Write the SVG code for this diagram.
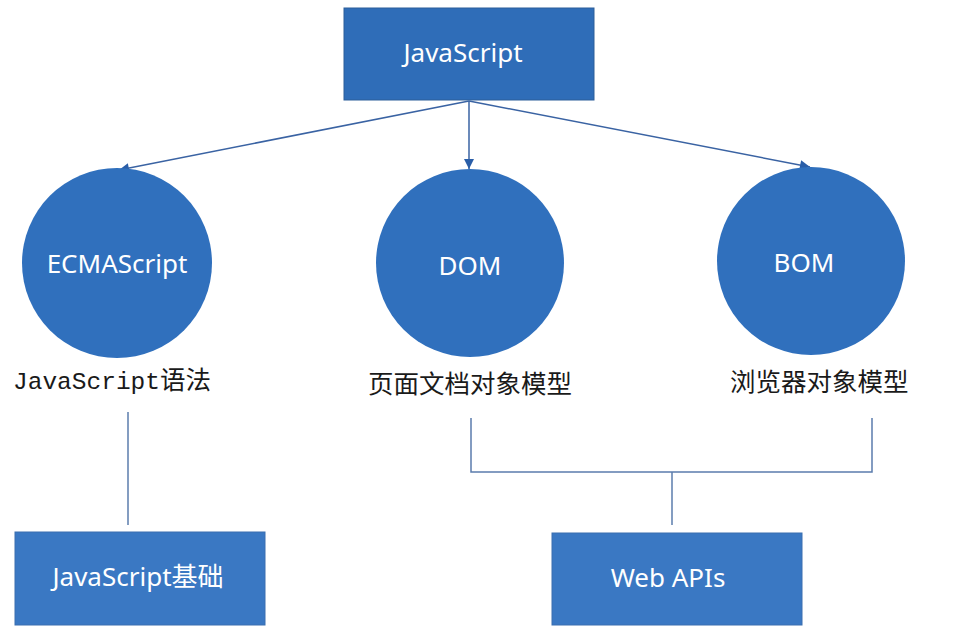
<svg xmlns="http://www.w3.org/2000/svg" width="980" height="630" viewBox="0 0 980 630">
<defs>
<style>
.box{fill:#2f6db8;stroke:#2d5e99;stroke-width:1}
.box2{fill:#3a78c3;stroke:#3a6fb0;stroke-width:1}
.circ{fill:#3070bd}
.wt{fill:#ffffff;font-family:"Noto Sans","Noto Sans CJK SC",sans-serif;font-size:26px;text-anchor:middle}
.lab{fill:#1a1a1a;font-family:"Noto Sans CJK SC",sans-serif;font-size:25.5px}
.mono{font-family:"Liberation Mono","Noto Sans CJK SC",monospace;font-size:24.5px}
.ln{stroke:#3a63a3;stroke-width:1.5;fill:none}
.ln2{stroke:#5b7cad;stroke-width:1.5;fill:none}
</style>
<marker id="ah" viewBox="0 0 10 10" refX="10" refY="5" markerWidth="11" markerHeight="10" orient="auto" markerUnits="userSpaceOnUse">
<path d="M0,0 L10,5 L0,10 z" fill="#2a5ea8"/>
</marker>
</defs>
<rect width="980" height="630" fill="#ffffff"/>
<g id="connectors">
<line class="ln" x1="469" y1="101" x2="119" y2="170" marker-end="url(#ah)"/>
<line class="ln" x1="469" y1="101" x2="469" y2="169" marker-end="url(#ah)"/>
<line class="ln" x1="469" y1="101" x2="810" y2="167" marker-end="url(#ah)"/>
<line class="ln2" x1="128" y1="412" x2="128" y2="525"/>
<polyline class="ln2" points="471,418 471,472 872,472 872,418"/>
<line class="ln2" x1="672" y1="472" x2="672" y2="525"/>
</g>
<g id="javascript">
<rect class="box" x="344" y="8" width="250" height="92"/>
<text class="wt" x="463" y="62">JavaScript</text>
</g>
<g id="ecmascript">
<circle class="circ" cx="117" cy="263" r="95"/>
<text class="wt" x="117" y="273">ECMAScript</text>
<text class="lab" x="13" y="389"><tspan class="mono">JavaScript</tspan>语法</text>
</g>
<g id="dom">
<circle class="circ" cx="470" cy="263" r="94"/>
<text class="wt" x="470" y="275">DOM</text>
<text class="lab" x="368" y="393">页面文档对象模型</text>
</g>
<g id="bom">
<circle class="circ" cx="811" cy="261" r="94"/>
<text class="wt" x="804" y="272">BOM</text>
<text class="lab" x="730" y="391">浏览器对象模型</text>
</g>
<g id="jsbasic">
<rect class="box2" x="15" y="532" width="250" height="93"/>
<text class="wt" x="138" y="586">JavaScript基础</text>
</g>
<g id="webapis">
<rect class="box2" x="552" y="533" width="250" height="92"/>
<text class="wt" x="668" y="587">Web APIs</text>
</g>
</svg>
